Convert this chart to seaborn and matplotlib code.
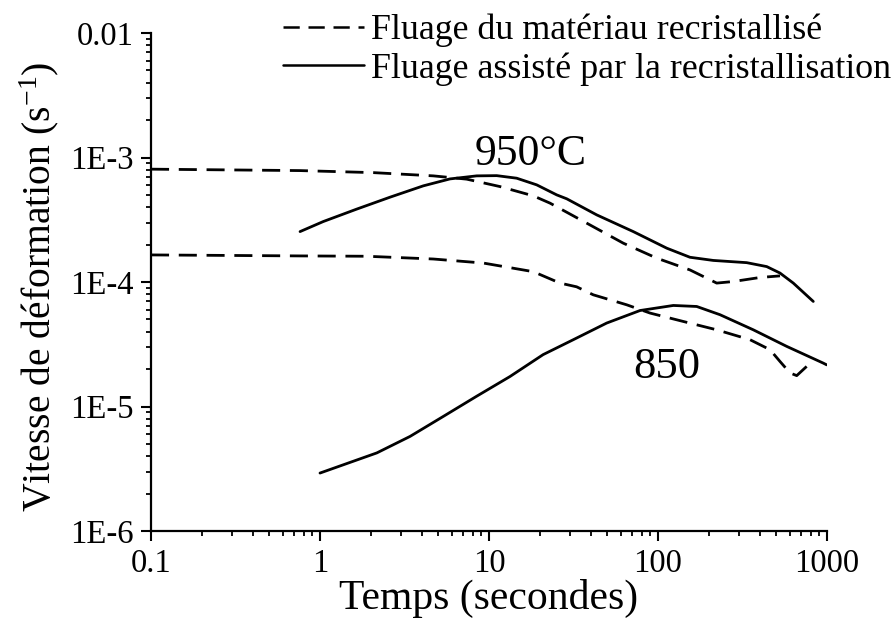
import matplotlib
matplotlib.use("Agg")
import matplotlib.pyplot as plt
import seaborn as sns
import numpy as np
from matplotlib.ticker import FixedLocator, FixedFormatter, LogLocator, NullFormatter

# ---- data ----
t_950_recr = [0.1, 0.762, 2.068, 4.681, 7.379, 11.62, 18.29, 22.96, 37.86, 62.33, 98.24, 154.6,
              222.5, 279.0, 401.4, 527.1]
v_950_recr = [8.06e-4, 7.85e-4, 7.56e-4, 7.12e-4, 6.70e-4, 5.84e-4, 4.92e-4, 4.30e-4, 2.97e-4,
              2.05e-4, 1.555e-4, 1.25e-4, 9.80e-5, 1.009e-4, 1.087e-4, 1.12e-4]

t_950_assist = [0.762, 1.046, 1.649, 2.596, 4.086, 5.877, 8.458, 11.11, 14.58, 19.15, 25.15, 28.83,
                43.39, 71.42, 112.6, 154.6, 212.4, 334.9, 439.8, 527.1, 631.8, 829.5]
v_950_assist = [2.54e-4, 3.06e-4, 3.85e-4, 4.80e-4, 5.92e-4, 6.73e-4, 7.12e-4, 7.15e-4, 6.82e-4,
                6.03e-4, 5.01e-4, 4.66e-4, 3.46e-4, 2.54e-4, 1.87e-4, 1.58e-4, 1.49e-4, 1.43e-4,
                1.33e-4, 1.18e-4, 9.80e-5, 6.98e-5]

t_850_recr = [0.1, 0.76, 1.89, 4.68, 9.25, 18.3, 26.31, 33.0, 41.4, 65.28, 89.7, 141.1, 222.5,
              350.3, 459.9, 527.1, 604.1, 662, 758.4, 811.7]
v_850_recr = [1.65e-4, 1.62e-4, 1.61e-4, 1.53e-4, 1.42e-4, 1.21e-4, 9.80e-5, 9.15e-5, 7.89e-5,
              6.56e-5, 5.63e-5, 4.82e-5, 4.13e-5, 3.44e-5, 2.86e-5, 2.30e-5, 1.86e-5, 1.77e-5,
              2.10e-5, 1.91e-5]

t_850_assist = [1.0, 2.17, 3.41, 5.37, 8.46, 13.3, 20.9, 31.54, 49.70, 78.25, 123.2, 169.4, 232.8,
                366.4, 577.5, 950.9, 996]
v_850_assist = [2.92e-6, 4.24e-6, 5.75e-6, 8.33e-6, 1.21e-5, 1.74e-5, 2.61e-5, 3.44e-5, 4.68e-5,
                5.90e-5, 6.48e-5, 6.36e-5, 5.46e-5, 4.13e-5, 3.04e-5, 2.23e-5, 2.16e-5]

legend_labels = ["Fluage du matériau recristallisé", "Fluage assisté par la recristallisation"]
x_ticks = [0.1, 1, 10, 100, 1000]
x_tick_labels = ["0.1", "1", "10", "100", "1000"]
y_ticks = [1e-6, 1e-5, 1e-4, 1e-3, 1e-2]
y_tick_labels = ["1E-6", "1E-5", "1E-4", "1E-3", "0.01"]

# ---- style ----
sns.set_style("ticks")
plt.rcParams["font.family"] = ["Liberation Serif", "DejaVu Serif"]
plt.rcParams["mathtext.fontset"] = "custom"
plt.rcParams["mathtext.rm"] = "Liberation Serif"
plt.rcParams["mathtext.it"] = "Liberation Serif"
plt.rcParams["text.color"] = "black"
plt.rcParams["axes.labelcolor"] = "black"
plt.rcParams["xtick.color"] = "black"
plt.rcParams["ytick.color"] = "black"
plt.rcParams["axes.edgecolor"] = "black"

fig = plt.figure(figsize=(8.95, 6.26), dpi=100)
ax = fig.add_axes([151 / 895, 1 - 531 / 626, (827 - 151) / 895, (531 - 33) / 626])

dash = (0, (6.5, 3.5))
lw = 2.0
sns.lineplot(x=t_950_recr, y=v_950_recr, ax=ax, color="black", linestyle=dash, linewidth=lw,
             sort=False, label=legend_labels[0])
sns.lineplot(x=t_950_assist, y=v_950_assist, ax=ax, color="black", linewidth=lw,
             sort=False, label=legend_labels[1])
sns.lineplot(x=t_850_recr, y=v_850_recr, ax=ax, color="black", linestyle=dash, linewidth=lw,
             sort=False)
sns.lineplot(x=t_850_assist, y=v_850_assist, ax=ax, color="black", linewidth=lw,
             sort=False)

ax.set_xscale("log")
ax.set_yscale("log")
ax.set_xlim(0.1, 1000)
ax.set_ylim(1e-6, 1e-2)

ax.xaxis.set_major_locator(FixedLocator(x_ticks))
ax.xaxis.set_major_formatter(FixedFormatter(x_tick_labels))
ax.yaxis.set_major_locator(FixedLocator(y_ticks))
ax.yaxis.set_major_formatter(FixedFormatter(y_tick_labels))
ax.xaxis.set_minor_locator(LogLocator(base=10, subs=np.arange(2, 10)))
ax.yaxis.set_minor_locator(LogLocator(base=10, subs=np.arange(2, 10)))
ax.xaxis.set_minor_formatter(NullFormatter())
ax.yaxis.set_minor_formatter(NullFormatter())

for s in ["top", "right"]:
    ax.spines[s].set_visible(False)
for s in ["left", "bottom"]:
    ax.spines[s].set_linewidth(1.6)
    ax.spines[s].set_color("black")

ax.tick_params(which="major", direction="out", length=7.5, width=1.5, labelsize=23.5, pad=5,
               colors="black", labelcolor="black")
ax.tick_params(which="minor", direction="out", length=3.8, width=1.3, colors="black")

ax.set_xlabel("Temps (secondes)", fontsize=30, labelpad=0, color="black")
ax.set_ylabel("Vitesse de déformation (s$^{\\mathrm{-1}}$)", fontsize=28.5, color="black")
ax.yaxis.set_label_coords(-0.133, 0.49)

ax.text(8.26, 8.73e-4, "950°C", fontsize=31.5, ha="left", va="baseline", color="black")
ax.text(71.4, 1.69e-5, "850", fontsize=32, ha="left", va="baseline", color="black")

leg = ax.legend(loc="upper right", bbox_to_anchor=(1.0, 0.984), bbox_transform=fig.transFigure,
                frameon=False, fontsize=25.8, handlelength=2.25, handletextpad=0.2,
                labelspacing=0.14, borderpad=0.1, borderaxespad=0.0)
for h in leg.get_lines():
    h.set_linewidth(1.8)
for t in leg.get_texts():
    t.set_color("black")

fig.savefig("out.png", dpi=100)
